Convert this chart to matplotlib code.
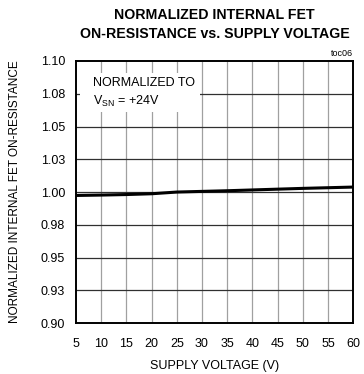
import matplotlib
matplotlib.use("Agg")
import matplotlib.pyplot as plt
from matplotlib.patches import Rectangle

# supply voltage sweep and normalized on-resistance
supply_v = [5, 10, 15, 20, 25, 30, 35, 40, 45, 50, 55, 60]
r_norm = [0.9974, 0.9977, 0.9981, 0.9987, 1.0000, 1.0005, 1.0010,
          1.0016, 1.0022, 1.0028, 1.0033, 1.0038]

y_ticks = [0.900, 0.925, 0.950, 0.975, 1.000, 1.025, 1.050, 1.075, 1.100]
y_tick_labels = ["0.90", "0.93", "0.95", "0.98", "1.00", "1.03", "1.05", "1.08", "1.10"]
x_ticks = [5, 10, 15, 20, 25, 30, 35, 40, 45, 50, 55, 60]

plt.rcParams['font.family'] = ['Liberation Sans', 'DejaVu Sans']

fig = plt.figure(figsize=(3.64, 3.74), dpi=100)
ax = fig.add_axes([0.209, 0.136, 0.761, 0.701])

ax.set_xlim(5, 60)
ax.set_ylim(0.90, 1.10)
ax.set_xticks(x_ticks)
ax.set_yticks(y_ticks)
ax.set_yticklabels(y_tick_labels)
ax.tick_params(length=0, labelsize=9, pad=8)
ax.tick_params(axis="x", pad=11)

# grid: light vertical, dark horizontal
for x in x_ticks[1:-1]:
    ax.axvline(x, color="#a0a0a0", lw=0.9, zorder=1)
for y in y_ticks[1:-1]:
    ax.axhline(y, color="#303030", lw=0.9, zorder=1)

for s in ax.spines.values():
    s.set_linewidth(1.4)
    s.set_color("black")

ax.plot(supply_v, r_norm, color="black", lw=2.2, zorder=4)

# label box covering the grid
ax.add_patch(Rectangle((5.8, 1.061), 23.8, 0.030, facecolor="white",
                       edgecolor="none", zorder=2))
ax.text(8.3, 1.083, "NORMALIZED TO", fontsize=9, va="center", zorder=3)
ax.text(8.3, 1.069, r"V$_{\mathregular{SN}}$ = +24V", fontsize=9, va="center", zorder=3)

ax.set_xlabel("SUPPLY VOLTAGE (V)", fontsize=9, labelpad=7)
ax.set_ylabel("NORMALIZED INTERNAL FET ON-RESISTANCE", fontsize=8.5, labelpad=14)

fig.text(0.97, 0.845, "toc06", fontsize=6.5, ha="right", va="bottom")
fig.text(0.59, 0.978, "NORMALIZED INTERNAL FET\nON-RESISTANCE vs. SUPPLY VOLTAGE",
         fontsize=10.2, fontweight="bold", ha="center", va="top",
         linespacing=1.4)

fig.savefig("out.png", dpi=100)
